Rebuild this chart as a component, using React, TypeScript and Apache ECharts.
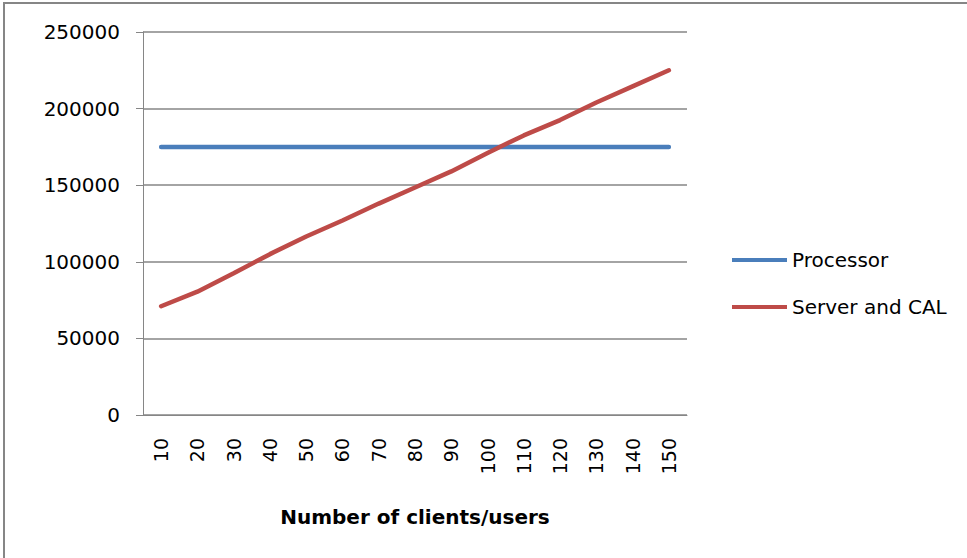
import React, { useEffect, useRef } from "react";
import * as echarts from "echarts";

const categories = ["10", "20", "30", "40", "50", "60", "70", "80", "90", "100", "110", "120", "130", "140", "150"];
const processor = [175000, 175000, 175000, 175000, 175000, 175000, 175000, 175000, 175000, 175000, 175000, 175000, 175000, 175000, 175000];
const serverAndCal = [71000, 80500, 92500, 105000, 116500, 127000, 138000, 148500, 159000, 171000, 182500, 192500, 204000, 214500, 225000];
const seriesNames = ["Processor", "Server and CAL"];
const xAxisTitle = "Number of clients/users";

export default function App() {
  const ref = useRef<HTMLDivElement>(null);
  useEffect(() => {
    if (!ref.current) return;
    const chart = echarts.init(ref.current, null, { renderer: "svg" });
    const font = "DejaVu Sans";
    chart.setOption({
      animation: false,
      backgroundColor: "#ffffff",
      graphic: [
        {
          type: "rect",
          shape: { x: 4, y: 3, width: 1000, height: 600 },
          style: { fill: "none", stroke: "#868686", lineWidth: 2 },
          silent: true,
        },
      ],
      grid: { left: 143, top: 32, right: 280, bottom: 143, containLabel: false },
      legend: {
        orient: "vertical",
        left: 727,
        top: 245,
        icon: "rect",
        itemWidth: 55,
        itemHeight: 4,
        itemGap: 27,
        textStyle: { fontFamily: font, fontSize: 20, color: "#000" },
        data: seriesNames,
      },
      xAxis: {
        type: "category",
        data: categories,
        boundaryGap: true,
        name: xAxisTitle,
        nameLocation: "middle",
        nameGap: 92,
        nameTextStyle: { fontFamily: font, fontSize: 20, fontWeight: "bold", color: "#000" },
        axisLine: { lineStyle: { color: "#868686", width: 1 } },
        axisTick: { alignWithLabel: false, length: 7, lineStyle: { color: "#868686" } },
        axisLabel: { rotate: 90, margin: 23, fontFamily: font, fontSize: 19, color: "#000" },
        splitLine: { show: false },
      },
      yAxis: {
        type: "value",
        min: 0,
        max: 250000,
        interval: 50000,
        axisLine: { show: true, lineStyle: { color: "#868686", width: 1 } },
        axisTick: { show: true, length: 7, lineStyle: { color: "#868686" } },
        axisLabel: {
          margin: 23,
          fontFamily: font,
          fontSize: 20,
          color: "#000",
          formatter: (v: number) => String(v),
        },
        splitLine: { lineStyle: { color: "#868686", width: 1.5 } },
      },
      series: [
        {
          name: seriesNames[0],
          type: "line",
          data: processor,
          symbol: "none",
          lineStyle: { color: "#4A7EBB", width: 4.5, cap: "round" },
          itemStyle: { color: "#4A7EBB" },
        },
        {
          name: seriesNames[1],
          type: "line",
          data: serverAndCal,
          symbol: "none",
          lineStyle: { color: "#BE4B48", width: 4.5, cap: "round" },
          itemStyle: { color: "#BE4B48" },
        },
      ],
    });
    return () => chart.dispose();
  }, []);
  return <div ref={ref} style={{ width: 967, height: 558, position: "absolute", left: 0, top: 0 }} />;
}
